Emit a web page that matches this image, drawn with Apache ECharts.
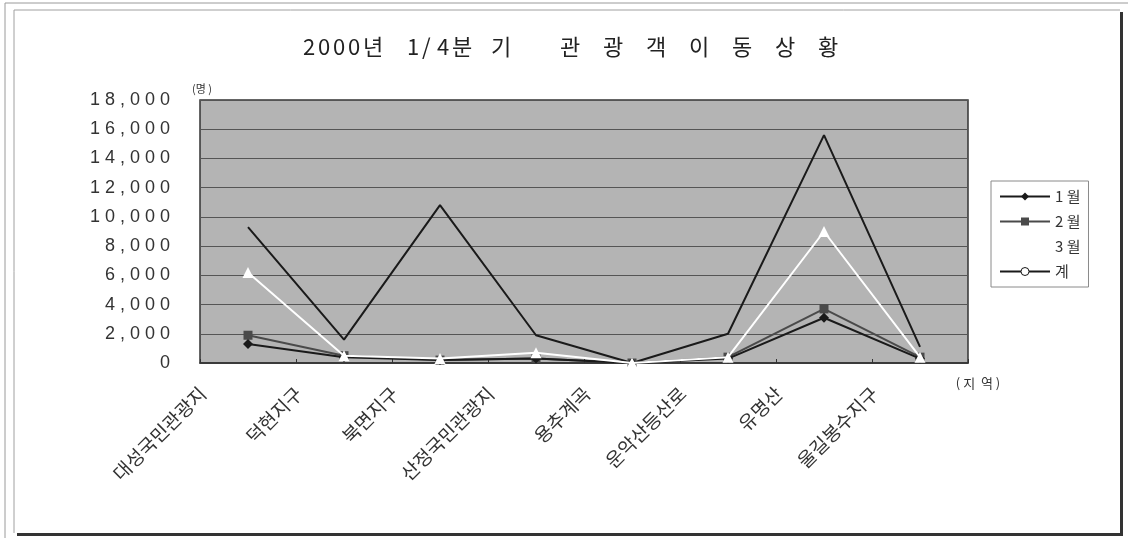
<!DOCTYPE html>
<html>
<head>
<meta charset="utf-8">
<script src="https://cdn.jsdelivr.net/npm/echarts@6/dist/echarts.min.js"></script>
<style>
  html, body { margin: 0; padding: 0; background: #ffffff; }
  #chart { width: 1128px; height: 538px; }
</style>
</head>
<body>
<div id="chart"></div>
<script>
// Visitor counts per region, first quarter 2000
const regions = ['대성국민관광지', '덕현지구', '북면지구', '산정국민관광지', '용추계곡', '운악산등산로', '유명산', '울길봉수지구'];
const jan   = [1300, 400, 200, 300, 0, 300, 3100, 300];
const feb   = [1900, 500, 200, 300, 0, 400, 3700, 400];
const mar   = [6200, 500, 300, 700, 0, 400, 9000, 400];
const total = [9300, 1600, 10800, 1900, 0, 2000, 15600, 1100];
const seriesNames = ['1 월', '2 월', '3 월', '계'];
const yMin = 0, yMax = 18000, yStep = 2000;

const FONT = '"Noto Sans CJK KR", "Liberation Sans", sans-serif';
const chart = echarts.init(document.getElementById('chart'), null, { renderer: 'canvas' });

// spaced digits for the value axis, e.g. "1 8 , 0 0 0"
const spaced = v => v.toLocaleString('en-US').split('').join(' ');

// wide-set title built from fixed-width rich-text cells
const cell = (style, chars) => chars.split('').map(c => '{' + style + '|' + c + '}').join('');
const titleText =
  cell('d', '2000') + '{y|년}' + '{g1| }' +
  cell('n', '1/4') + '{s|분}' + '{g2| }' + '{s|기}' + '{g3| }' +
  cell('h', '관광객이동상황');
const titleRich = {
  d:  { width: 15 },
  y:  { width: 22 },
  g1: { width: 22 },
  n:  { width: 15 },
  s:  { width: 25 },
  g2: { width: 14 },
  g3: { width: 44 },
  h:  { width: 43 }
};
Object.values(titleRich).forEach(s => Object.assign(s, { fontFamily: FONT, fontSize: 22, color: '#222' }));

const option = {
  backgroundColor: '#ffffff',
  animation: false,
  title: {
    text: titleText,
    left: 298, top: 31,
    textStyle: { fontFamily: FONT, fontSize: 22, fontWeight: 'normal', color: '#222', rich: titleRich }
  },
  legend: {
    orient: 'vertical',
    left: 991, top: 181,
    padding: [8, 8, 8, 8],
    itemWidth: 50, itemHeight: 10, itemGap: 10,
    backgroundColor: '#ffffff',
    borderColor: '#8a8a8a', borderWidth: 1,
    textStyle: { fontFamily: FONT, fontSize: 15, color: '#333' },
    data: [
      seriesNames[0], seriesNames[1], seriesNames[2],
      { name: seriesNames[3], itemStyle: { color: '#ffffff', borderColor: '#1a1a1a', borderWidth: 1 } }
    ]
  },
  grid: { left: 200, right: 160, top: 100, bottom: 175, show: true, backgroundColor: '#b4b4b4', borderColor: '#333', borderWidth: 1.5 },
  xAxis: {
    type: 'category',
    data: regions,
    boundaryGap: true,
    name: '( 지  역 )',
    nameLocation: 'end',
    nameGap: 10,
    nameTextStyle: { fontFamily: FONT, fontSize: 13, color: '#333', align: 'center', verticalAlign: 'top', padding: [14, 0, 0, 0] },
    axisLine: { show: true, lineStyle: { color: '#333', width: 1.5 } },
    axisTick: { show: true, inside: true, length: 4, lineStyle: { color: '#333' } },
    axisLabel: {
      interval: 0, rotate: 45, margin: -18,
      fontFamily: FONT, fontSize: 19, color: '#333',
      padding: [0, 64, 190, 0]
    }
  },
  yAxis: {
    type: 'value',
    min: yMin, max: yMax, interval: yStep,
    name: '(명 )',
    nameLocation: 'end',
    nameGap: 6,
    nameTextStyle: { fontFamily: FONT, fontSize: 11, color: '#333', align: 'center', padding: [0, 0, 0, 4] },
    axisLine: { show: false },
    axisTick: { show: false },
    axisLabel: {
      margin: 30,
      fontFamily: '"Liberation Sans", sans-serif', fontSize: 18, color: '#333',
      formatter: v => spaced(v)
    },
    splitLine: { show: true, lineStyle: { color: '#555', width: 1 } }
  },
  series: [
    {
      name: seriesNames[0], type: 'line', data: jan,
      symbol: 'diamond', symbolSize: 10,
      lineStyle: { color: '#1a1a1a', width: 2 },
      itemStyle: { color: '#1a1a1a' }, z: 4
    },
    {
      name: seriesNames[1], type: 'line', data: feb,
      symbol: 'rect', symbolSize: 9,
      lineStyle: { color: '#4a4a4a', width: 2 },
      itemStyle: { color: '#4a4a4a' }, z: 3
    },
    {
      name: seriesNames[2], type: 'line', data: mar,
      symbol: 'triangle', symbolSize: 11,
      lineStyle: { color: '#ffffff', width: 2 },
      itemStyle: { color: '#ffffff' }, z: 5
    },
    {
      name: seriesNames[3], type: 'line', data: total,
      symbol: 'none',
      lineStyle: { color: '#1a1a1a', width: 2 },
      itemStyle: { color: '#1a1a1a' }, z: 2
    }
  ],
  graphic: [
    // outer thin frame
    { type: 'rect', shape: { x: 5, y: 3, width: 1130, height: 540 }, style: { fill: 'none', stroke: '#9a9a9a', lineWidth: 1 }, silent: true },
    // inner frame with a dark drop edge on the right and bottom
    { type: 'polyline', shape: { points: [[14, 533], [14, 10], [1120, 10]] }, style: { stroke: '#a0a0a0', lineWidth: 1, fill: 'none' }, silent: true },
    { type: 'polyline', shape: { points: [[1121.5, 12], [1121.5, 534.5], [17, 534.5]] }, style: { stroke: '#333', lineWidth: 3, fill: 'none' }, silent: true }
  ]
};

chart.setOption(option);
</script>
</body>
</html>
